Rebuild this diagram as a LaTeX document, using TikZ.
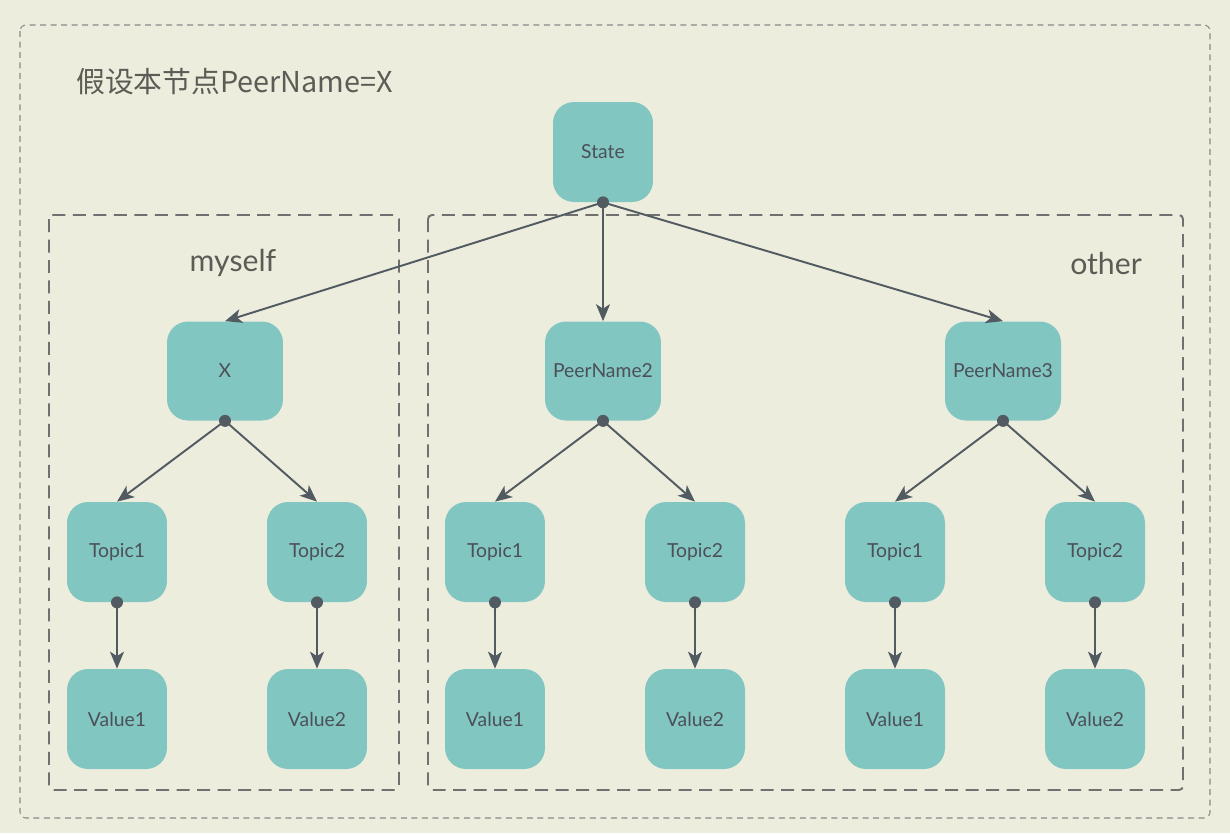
\documentclass[tikz,border=0pt]{standalone}
\usepackage{fontspec}
\setmainfont{Lato}
\newfontfamily\cjk{Noto Sans CJK SC}
\usetikzlibrary{arrows.meta}

\definecolor{bgcol}{HTML}{EDEDDE}
\definecolor{boxcol}{HTML}{82C6C2}
\definecolor{linecol}{HTML}{525A62}
\definecolor{textcol}{HTML}{4B5057}
\definecolor{labelcol}{HTML}{5E5A55}
\definecolor{dashcol}{HTML}{707070}
\definecolor{framecol}{HTML}{8A8A8A}

\tikzset{
  item/.style={fill=boxcol, rounded corners=0.42cm, minimum width=2cm, minimum height=2cm,
    text=textcol, font=\fontsize{11}{13}\selectfont},
  wide/.style={item, minimum width=2.32cm, minimum height=1.98cm},
  link/.style={draw=linecol, line width=1.1pt, -{Stealth[length=0.34cm,width=0.28cm,inset=0.09cm]}},
  dot/.style={fill=linecol},
  group/.style={draw=dashcol, line width=1.1pt, dash pattern=on 0.26cm off 0.15cm, rounded corners=0.08cm},
}

\begin{document}
\begin{tikzpicture}[x=0.02cm,y=-0.02cm]

  % background and outer frame
  \fill[bgcol] (0,0) rectangle (1230,833);
  \useasboundingbox (0,0) rectangle (1230,833);
  \draw[draw=framecol, line width=0.6pt, dash pattern=on 0.12cm off 0.09cm, rounded corners=0.12cm]
    (20,25) rectangle (1210,818);

  % title
  \node[anchor=west, text=labelcol, font=\cjk\fontsize{16.4}{18}\selectfont] (title) at (70,82)
    {假设本节点PeerName=X};

  % groups
  \draw[group] (49,215) rectangle (399,790);
  \draw[group] (428,215) rectangle (1183,790);
  \node[text=labelcol, font=\fontsize{17.2}{19}\selectfont] (myself) at (233,263) {myself};
  \node[text=labelcol, font=\fontsize{17.2}{19}\selectfont] (other) at (1106,263) {other};

  % root
  \node[item] (state) at (603,152) {State};

  % peers
  \node[wide] (x) at (225,371) {X};
  \node[wide] (p2) at (603,371) {PeerName2};
  \node[wide] (p3) at (1003,371) {PeerName3};

  \draw[link] (state.south) -- (x.north);
  \draw[link] (state.south) -- (p2.north);
  \draw[link] (state.south) -- (p3.north);
  \fill[dot] (state.south) circle (0.12cm);

  % topics and values under each peer
  \foreach \p in {x,p2,p3} {
    \node[item] (\p t1) at ([xshift=-108*0.02cm]\p.center |- 0,552) {Topic1};
    \node[item] (\p t2) at ([xshift=92*0.02cm]\p.center |- 0,552) {Topic2};
    \node[item] (\p v1) at (\p t1.center |- 0,719) {Value1};
    \node[item] (\p v2) at (\p t2.center |- 0,719) {Value2};

    \draw[link] (\p.south) -- (\p t1.north);
    \draw[link] (\p.south) -- (\p t2.north);
    \draw[link] (\p t1.south) -- (\p v1.north);
    \draw[link] (\p t2.south) -- (\p v2.north);

    \fill[dot] (\p.south) circle (0.12cm);
    \fill[dot] (\p t1.south) circle (0.12cm);
    \fill[dot] (\p t2.south) circle (0.12cm);
  }

\end{tikzpicture}
\end{document}
